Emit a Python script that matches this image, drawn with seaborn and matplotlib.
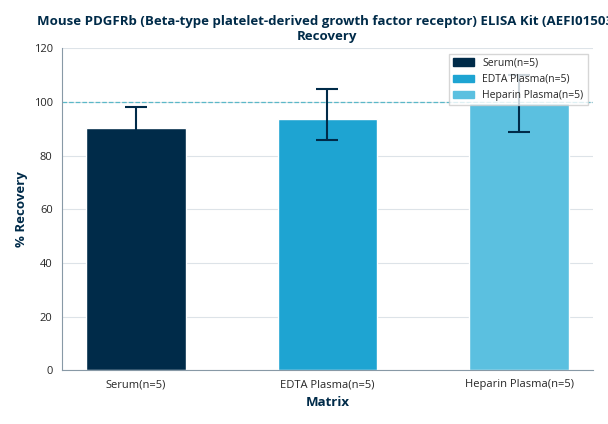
import numpy as np
import pandas as pd
import seaborn as sns
import matplotlib.pyplot as plt

matrices = ["Serum(n=5)", "EDTA Plasma(n=5)", "Heparin Plasma(n=5)"]
recovery = [90.5, 93.5, 99.5]
err_low = [7.5, 7.5, 10.5]
err_high = [7.5, 11.5, 10.5]
colors = ["#002b49", "#1ea4d2", "#5bc0e0"]

sns.set_style("white")
plt.rcParams["font.family"] = ["Open Sans", "DejaVu Sans"]

df = pd.DataFrame({"Matrix": matrices, "Recovery": recovery})

fig, ax = plt.subplots(figsize=(6.08, 4.24), dpi=100)
ax.yaxis.grid(True, color="#dde3e8", linewidth=0.8)
ax.set_axisbelow(True)

sns.barplot(data=df, x="Matrix", y="Recovery", hue="Matrix", palette=colors,
            saturation=1, width=0.52, dodge=False, legend=False, ax=ax, zorder=2)
ax.errorbar(np.arange(len(matrices)), recovery, yerr=[err_low, err_high], fmt="none",
            ecolor="#002b49", elinewidth=1.5, capsize=8, capthick=1.5, zorder=3)
ax.axhline(100, color="#5bb8c8", linestyle="--", linewidth=0.9, zorder=1)

handles = [plt.Rectangle((0, 0), 1, 1, color=c) for c in colors]
ax.legend(handles, matrices, loc="upper right", fontsize=7.5, frameon=True,
          edgecolor="#cccccc", fancybox=False)

ax.set_ylim(0, 120)
ax.set_yticks(range(0, 121, 20))
ax.set_xlabel("Matrix", fontsize=9.5, fontweight="bold", color="#002b49")
ax.set_ylabel("% Recovery", fontsize=9.5, fontweight="bold", color="#002b49")
ax.set_title("Mouse PDGFRb (Beta-type platelet-derived growth factor receptor) ELISA Kit (AEFI01503)\nRecovery",
             fontsize=9.5, fontweight="bold", color="#002b49")
ax.tick_params(labelsize=8, length=3, color="#555555")
for s in ["top", "right"]:
    ax.spines[s].set_visible(False)
for s in ["left", "bottom"]:
    ax.spines[s].set_color("#8899a6")

plt.tight_layout()
plt.savefig("out.png", dpi=100)
